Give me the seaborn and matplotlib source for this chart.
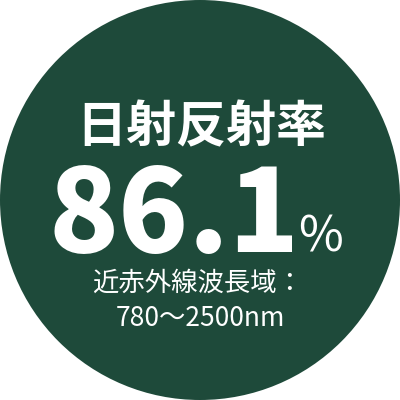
import matplotlib
matplotlib.use("Agg")
import matplotlib.pyplot as plt
import seaborn as sns
from matplotlib.patches import Circle

TITLE = "日射反射率"
VALUE = "86.1"
UNIT = "%"
NOTE_LINES = ["近赤外線波長域：", "780～2500nm"]
BG_GREEN = "#1e4a3a"

sns.set_style("white")
plt.rcParams["font.family"] = ["Noto Sans CJK JP", "DejaVu Sans"]

fig = plt.figure(figsize=(4, 4), dpi=100)
ax = fig.add_axes([0, 0, 1, 1])
ax.set_xlim(0, 400)
ax.set_ylim(400, 0)
ax.set_aspect("equal")
ax.axis("off")

ax.add_patch(Circle((200, 200), 200, color=BG_GREEN, lw=0))

ax.text(201, 128, TITLE, color="white", fontsize=36, fontweight="bold",
        ha="center", va="center")
ax.text(174, 218, VALUE, color="white", fontsize=83, fontweight="heavy",
        ha="center", va="center")
ax.text(320, 238, UNIT, color="white", fontsize=35,
        ha="center", va="center")
ax.text(198, 283, NOTE_LINES[0], color="white", fontsize=19,
        ha="center", va="center")
ax.text(200, 318, NOTE_LINES[1], color="white", fontsize=19,
        ha="center", va="center")

fig.savefig("out.png", dpi=100)
